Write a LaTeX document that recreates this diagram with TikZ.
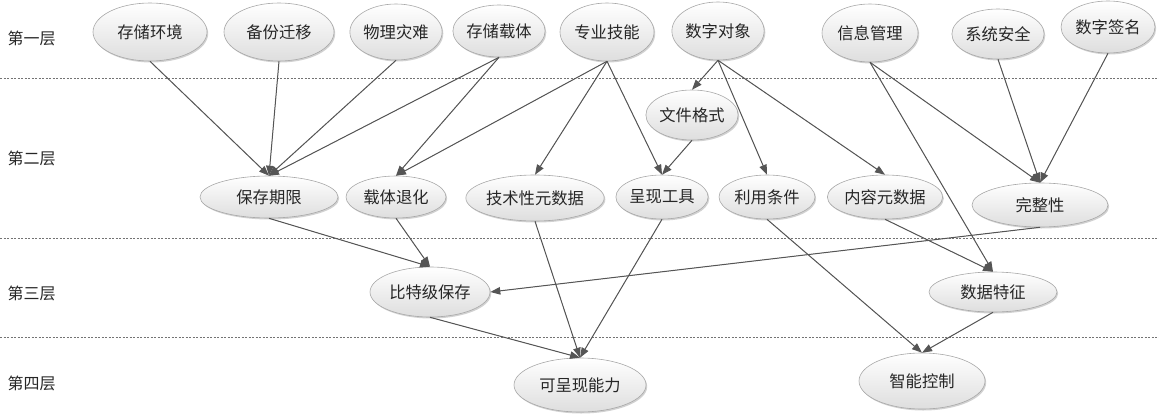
\documentclass[tikz,border=0pt]{standalone}
\usepackage{fontspec}
\setmainfont{Noto Sans CJK SC}
\usetikzlibrary{shapes.geometric,arrows.meta,shadows}
\definecolor{edge}{HTML}{555555}
\definecolor{rim}{HTML}{A8A8A8}
\tikzset{
  ell/.style={ellipse, draw=rim, line width=0.6pt, top color=white, bottom color=black!13,
    inner sep=0pt, font=\fontsize{16.3}{16.3}\selectfont, text=black!85,
    drop shadow={shadow xshift=1.2pt, shadow yshift=-1.5pt, opacity=0.18, fill=black}},
  arr/.style={draw=edge, line width=1pt, -{Triangle[length=10pt,width=7.5pt]}, fill=edge},
  layer/.style={draw=black!55, line width=0.7pt, dash pattern=on 2pt off 1.5pt},
  lab/.style={anchor=west, font=\fontsize{16}{16}\selectfont, text=black!85}
}
\begin{document}
\begin{tikzpicture}[x=1pt,y=-1pt]
\useasboundingbox (0,0) rectangle (1159,415);
% layer separators
\coordinate (l1a) at (0,78);  \coordinate (l1b) at (1159,78);
\coordinate (l2a) at (0,238); \coordinate (l2b) at (1159,238);
\coordinate (l3a) at (0,337); \coordinate (l3b) at (1159,337);
\draw[layer] (l1a) -- (l1b);
\draw[layer] (l2a) -- (l2b);
\draw[layer] (l3a) -- (l3b);
% layer labels
\node[lab] (L1) at (4,38) {第一层};
\node[lab] (L2) at (4,158) {第二层};
\node[lab] (L3) at (4,293) {第三层};
\node[lab] (L4) at (4,383) {第四层};
% layer 1
\node[ell, minimum width=114, minimum height=58] (a1) at (150,32) {存储环境};
\node[ell, minimum width=110, minimum height=58] (a2) at (279,32) {备份迁移};
\node[ell, minimum width=92, minimum height=56] (a3) at (396,32) {物理灾难};
\node[ell, minimum width=92, minimum height=52] (a4) at (499,31) {存储载体};
\node[ell, minimum width=94, minimum height=58] (a5) at (607,32) {专业技能};
\node[ell, minimum width=90, minimum height=58] (a6) at (718,31) {数字对象};
\node[ell, minimum width=96, minimum height=58] (a7) at (870,33) {信息管理};
\node[ell, minimum width=92, minimum height=50] (a8) at (998,34) {系统安全};
\node[ell, minimum width=94, minimum height=52] (a9) at (1108,27) {数字签名};
% layer 2
\node[ell, minimum width=90, minimum height=50] (b0) at (692,115) {文件格式};
\node[ell, minimum width=138, minimum height=42] (b1) at (269,197) {保存期限};
\node[ell, minimum width=100, minimum height=42] (b2) at (396,197) {载体退化};
\node[ell, minimum width=130, minimum height=46] (b3) at (535,198) {技术性元数据};
\node[ell, minimum width=92, minimum height=44] (b4) at (662,197) {呈现工具};
\node[ell, minimum width=96, minimum height=44] (b5) at (767,197) {利用条件};
\node[ell, minimum width=110, minimum height=44] (b6) at (885,197) {内容元数据};
\node[ell, minimum width=136, minimum height=44] (b7) at (1040,205) {完整性};
% layer 3
\node[ell, minimum width=120, minimum height=50] (c1) at (430,292) {比特级保存};
\node[ell, minimum width=128, minimum height=40] (c2) at (993,292) {数据特征};
% layer 4
\node[ell, minimum width=132, minimum height=54] (d1) at (580,385) {可呈现能力};
\node[ell, minimum width=126, minimum height=56] (d2) at (922,381) {智能控制};
% edges
\draw[arr] (a1.south) -- (b1.north);
\draw[arr] (a2.south) -- (b1.north);
\draw[arr] (a3.south) -- (b1.north);
\draw[arr] (a4.south) -- (b1.north);
\draw[arr] (a4.south) -- (b2.north);
\draw[arr] (a5.south) -- (b2.north);
\draw[arr] (a5.south) -- (b3.north);
\draw[arr] (a5.south) -- (b4.north);
\draw[arr] (a6.south) -- (b0.north);
\draw[arr] (b0.south) -- (b4.north);
\draw[arr] (a6.south) -- (b5.north);
\draw[arr] (a6.south) -- (b6.north);
\draw[arr] (a7.south) -- (b7.north);
\draw[arr] (a7.south) -- (c2.north);
\draw[arr] (a8.south) -- (b7.north);
\draw[arr] (a9.south) -- (b7.north);
\draw[arr] (b1.south) -- (c1.north);
\draw[arr] (b2.south) -- (c1.north);
\draw[arr] (b7.south) -- (c1.east);
\draw[arr] (b3.south) -- (d1.north);
\draw[arr] (b4.south) -- (d1.north);
\draw[arr] (c1.south) -- (d1.north);
\draw[arr] (b5.south) -- (d2.north);
\draw[arr] (b6.south) -- (c2.north);
\draw[arr] (c2.south) -- (d2.north);
\end{tikzpicture}
\end{document}
